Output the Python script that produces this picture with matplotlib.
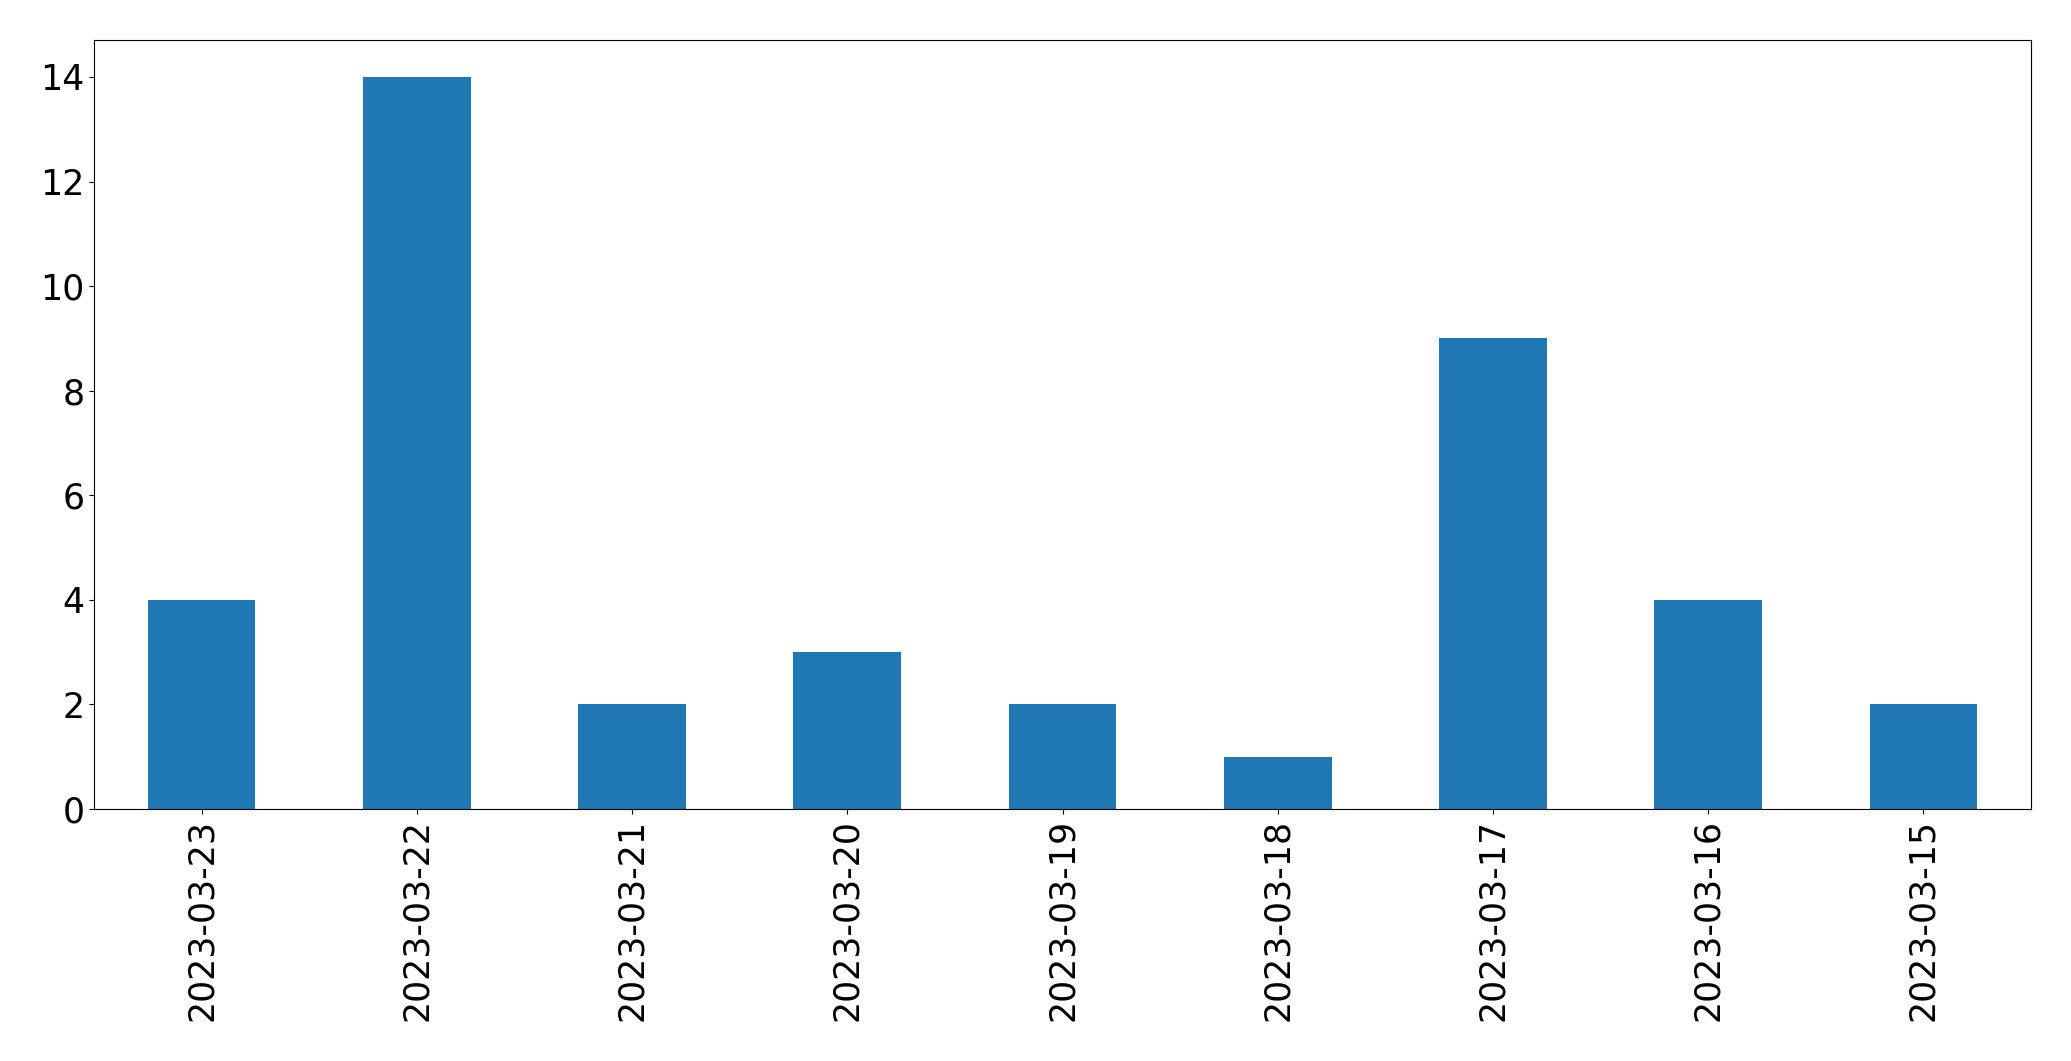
import pandas as pd
import matplotlib.pyplot as plt

# daily counts
dates = ['2023-03-23', '2023-03-22', '2023-03-21', '2023-03-20', '2023-03-19',
         '2023-03-18', '2023-03-17', '2023-03-16', '2023-03-15']
counts = [4, 14, 2, 3, 2, 1, 9, 4, 2]

s = pd.Series(counts, index=dates)

fig, ax = plt.subplots(figsize=(20.71, 10.61), dpi=100)
s.plot(kind='bar', ax=ax, fontsize=25)
plt.subplots_adjust(left=0.0454, right=0.9807, bottom=0.2375, top=0.962)

plt.savefig('out.png', dpi=100)
